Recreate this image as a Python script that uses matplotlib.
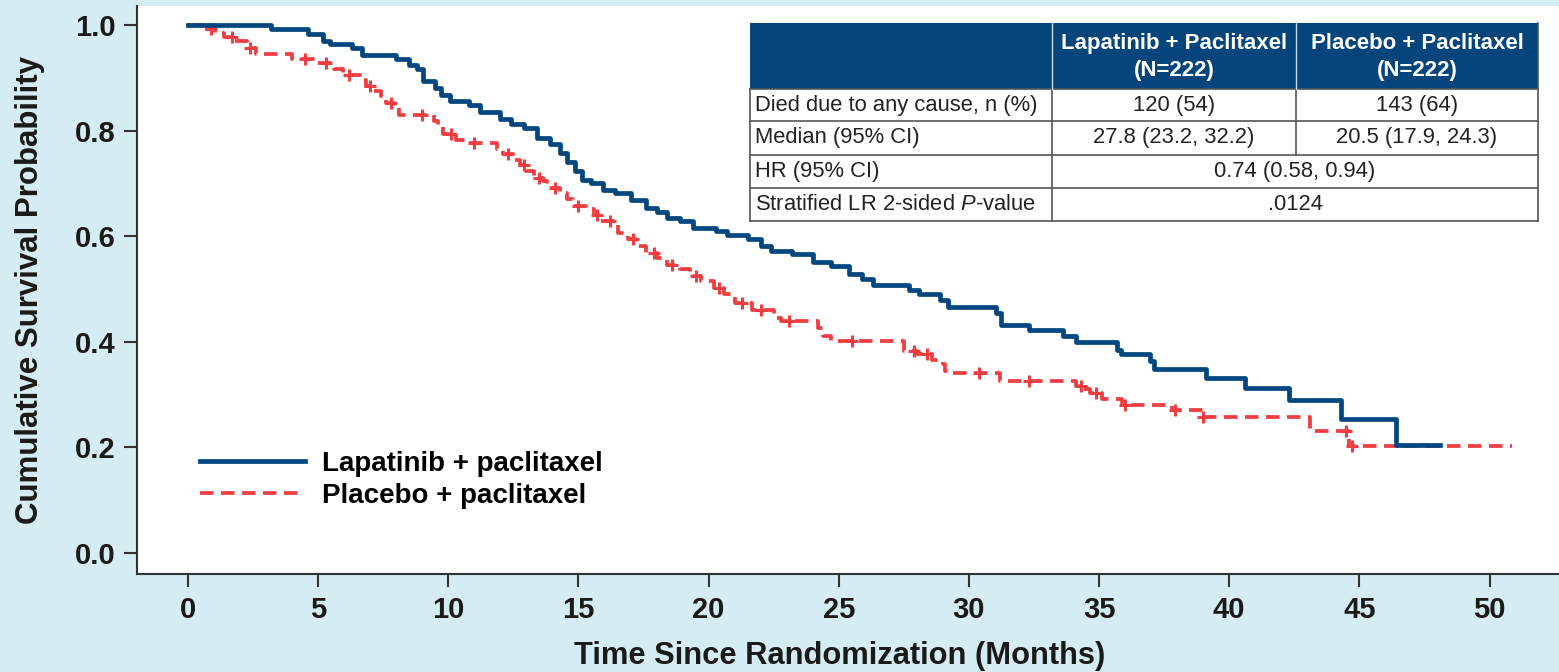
import numpy as np
import matplotlib
matplotlib.use("Agg")
import matplotlib.pyplot as plt
from matplotlib.patches import Rectangle

plt.rcParams['font.family'] = ['Liberation Sans', 'DejaVu Sans']
plt.rcParams['mathtext.fontset'] = 'custom'
plt.rcParams['mathtext.rm'] = 'Liberation Sans'
plt.rcParams['mathtext.it'] = 'Liberation Sans:italic'

# Kaplan-Meier steps (months, survival after the drop)
lap_t = [0, 3.2, 4.6, 5.2, 5.45, 6.3, 6.7, 8.0, 8.5, 8.8, 9.03, 9.5, 9.7, 10.07,
         10.8, 11.2, 12.0, 12.4, 12.9, 13.4, 13.9, 14.3, 14.55, 14.85, 15.15,
         15.5, 15.95, 16.4, 17.0, 17.6, 18.0, 18.4, 18.9, 19.4, 20.3, 20.7,
         21.5, 22.0, 22.4, 23.2, 24.0, 24.7, 25.4, 25.9, 26.3, 27.7, 28.1, 28.9,
         29.2, 31.05, 31.25, 32.3, 33.6, 34.1, 35.7, 35.85, 36.95, 37.1, 39.1,
         40.6, 42.3, 44.3, 46.4, 48.1]
lap_s = [1.0, 0.993, 0.983, 0.969, 0.964, 0.957, 0.944, 0.935, 0.925, 0.916,
         0.894, 0.881, 0.868, 0.856, 0.849, 0.836, 0.822, 0.813, 0.804, 0.786,
         0.775, 0.758, 0.741, 0.723, 0.707, 0.701, 0.688, 0.682, 0.668, 0.654,
         0.645, 0.635, 0.628, 0.616, 0.609, 0.603, 0.594, 0.581, 0.572, 0.566,
         0.551, 0.543, 0.528, 0.518, 0.507, 0.499, 0.491, 0.480, 0.466, 0.455,
         0.431, 0.422, 0.411, 0.399, 0.385, 0.376, 0.363, 0.349, 0.332, 0.312,
         0.289, 0.253, 0.204, 0.204]

pla_t = [0, 0.5, 1.05, 1.4, 1.8, 2.25, 2.6, 4.0, 4.9, 5.6, 5.95, 6.6, 6.85, 7.1,
         7.4, 7.6, 7.9, 8.1, 9.45, 9.6, 9.8, 10.3, 10.7, 11.86, 12.1, 12.5,
         12.75, 13.0, 13.3, 13.65, 13.8, 14.3, 14.55, 14.8, 15.3, 15.6, 15.8,
         16.5, 16.9, 17.2, 17.6, 18.0, 18.4, 18.9, 19.3, 19.7, 20.2, 20.6, 21.0,
         21.65, 22.5, 22.8, 24.2, 24.4, 24.7, 27.5, 28.0, 28.6, 29.0, 29.1, 29.4,
         31.2, 34.1, 34.4, 34.65, 35.1, 35.9, 37.8, 39.0, 43.1, 44.6, 50.85]
pla_s = [1.0, 0.993, 0.985, 0.978, 0.969, 0.957, 0.946, 0.935, 0.928, 0.916,
         0.906, 0.895, 0.884, 0.875, 0.865, 0.853, 0.843, 0.830, 0.818, 0.806,
         0.793, 0.783, 0.777, 0.766, 0.755, 0.745, 0.735, 0.723, 0.711, 0.704,
         0.692, 0.682, 0.670, 0.657, 0.651, 0.641, 0.628, 0.606, 0.594, 0.581,
         0.569, 0.559, 0.546, 0.537, 0.524, 0.515, 0.502, 0.490, 0.474, 0.461,
         0.445, 0.439, 0.426, 0.411, 0.401, 0.382, 0.376, 0.366, 0.357, 0.344,
         0.340, 0.325, 0.316, 0.310, 0.303, 0.292, 0.281, 0.270, 0.258, 0.231,
         0.202, 0.202]
pla_cens = [0.9, 1.7, 2.4, 4.5, 5.3, 6.2, 7.0, 7.8, 9.0, 10.1, 11.0, 12.3, 12.9,
            13.5, 14.1, 15.0, 15.7, 16.2, 17.1, 17.9, 18.6, 19.5, 20.4, 21.3,
            22.0, 23.1, 25.5, 27.9, 28.4, 30.4, 32.3, 34.3, 34.9, 36.0, 37.9,
            39.0, 44.5, 44.7]

labels = ['Lapatinib + paclitaxel', 'Placebo + paclitaxel']
xticks = [0, 5, 10, 15, 20, 25, 30, 35, 40, 45, 50]
yticks = [0.0, 0.2, 0.4, 0.6, 0.8, 1.0]

tbl_head = ['Lapatinib + Paclitaxel\n(N=222)', 'Placebo + Paclitaxel\n(N=222)']
row_names = ['Died due to any cause, n (%)', 'Median (95% CI)', 'HR (95% CI)',
             'Stratified LR 2-sided $\\mathit{P}$-value']
lap_vals = ['120 (54)', '27.8 (23.2, 32.2)']
pla_vals = ['143 (64)', '20.5 (17.9, 24.3)']
both_vals = ['0.74 (0.58, 0.94)', '.0124']

BG = '#d5ecf2'
BLUE = '#00467f'
RED = '#ef3e42'
HEAD = '#05457c'
W, H = 1559, 672

fig = plt.figure(figsize=(W / 100, H / 100), dpi=100, facecolor=BG)
ax = fig.add_axes([137 / W, 1 - 574 / H, 1 - 137 / W, (574 - 6) / H])
ax.set_facecolor('white')

l1, = ax.step(lap_t, lap_s, where='post', color=BLUE, lw=3.4, zorder=3)
l2, = ax.step(pla_t, pla_s, where='post', color=RED, lw=2.7,
              dashes=(3.6, 2.0), zorder=2)
idx = np.searchsorted(pla_t, pla_cens, side='right') - 1
ax.plot(pla_cens, np.array(pla_s)[idx], ls='none', marker='+', ms=8, mew=2.2,
        color=RED, zorder=2)

ax.set_xlim(-1.96, 52.67)
ax.set_ylim(-0.0398, 1.036)
ax.set_xticks(xticks)
ax.set_yticks(yticks)
ax.set_yticklabels([f'{v:.1f}' for v in yticks])
for s in ['top', 'right']:
    ax.spines[s].set_visible(False)
for s in ['left', 'bottom']:
    ax.spines[s].set_color('#333333')
    ax.spines[s].set_linewidth(1.5)
ax.tick_params(axis='both', length=9.5, width=1.5, color='#333333',
               labelsize=21, labelcolor='#1a1a1a')
ax.tick_params(axis='x', pad=6)
ax.tick_params(axis='y', pad=6)
for t in ax.get_xticklabels() + ax.get_yticklabels():
    t.set_fontweight('bold')

fig.text(30 / W, 1 - 290 / H, 'Cumulative Survival Probability', rotation=90,
         ha='center', va='center', fontsize=22.5, fontweight='bold', color='#1a1a1a')
fig.text(840 / W, 1 - 656 / H, 'Time Since Randomization (Months)',
         ha='center', va='center', fontsize=22.2, fontweight='bold', color='#1a1a1a')

ax.legend([l1, l2], labels, loc='upper left',
          bbox_to_anchor=(200 / W, 1 - 451 / H), bbox_transform=fig.transFigure,
          frameon=False, prop={'weight': 'bold', 'size': 20},
          handlelength=3.78, handletextpad=0.6, labelspacing=0.22,
          borderpad=0, borderaxespad=0)

# table drawn in its own pixel-unit axes
col_edges = [750, 1052, 1296, 1538]
row_edges = [23, 89, 121, 155, 188, 221]
tab = fig.add_axes([col_edges[0] / W, 1 - row_edges[-1] / H,
                    (col_edges[-1] - col_edges[0]) / W,
                    (row_edges[-1] - row_edges[0]) / H])
tab.set_xlim(col_edges[0], col_edges[-1])
tab.set_ylim(row_edges[-1], row_edges[0])
tab.axis('off')
tab.add_patch(Rectangle((col_edges[0], row_edges[1]), col_edges[-1] - col_edges[0],
                        row_edges[-1] - row_edges[1], facecolor='white',
                        edgecolor='none', clip_on=False))
tab.add_patch(Rectangle((col_edges[0], row_edges[0]), col_edges[-1] - col_edges[0],
                        row_edges[1] - row_edges[0], facecolor=HEAD,
                        edgecolor='none', clip_on=False))
lc = '#555555'
for y in row_edges[1:]:
    tab.plot([col_edges[0], col_edges[-1]], [y, y], color=lc, lw=1.2, clip_on=False)
tab.plot([col_edges[0], col_edges[0]], [row_edges[1], row_edges[-1]], color=lc, lw=1.2, clip_on=False)
tab.plot([col_edges[-1], col_edges[-1]], [row_edges[0], row_edges[-1]], color=lc, lw=1.2, clip_on=False)
tab.plot([col_edges[1], col_edges[1]], [row_edges[1], row_edges[-1]], color=lc, lw=1.2, clip_on=False)
tab.plot([col_edges[2], col_edges[2]], [row_edges[1], row_edges[3]], color=lc, lw=1.2, clip_on=False)
for x in col_edges[1:3]:
    tab.plot([x, x], [row_edges[0], row_edges[1]], color='#c8d8e8', lw=1.0, clip_on=False)

hy = (row_edges[0] + row_edges[1]) / 2
for i, txt in enumerate(tbl_head):
    tab.text((col_edges[i + 1] + col_edges[i + 2]) / 2, hy + 1, txt, ha='center',
             va='center', color='white', fontsize=16, fontweight='bold',
             linespacing=1.4)
for i, name in enumerate(row_names):
    cy = (row_edges[i + 1] + row_edges[i + 2]) / 2
    tab.text(col_edges[0] + 5, cy, name, ha='left', va='center', fontsize=15.8,
             color='#222222')
for i in range(len(lap_vals)):
    cy = (row_edges[i + 1] + row_edges[i + 2]) / 2
    tab.text((col_edges[1] + col_edges[2]) / 2, cy, lap_vals[i], ha='center',
             va='center', fontsize=15.8, color='#222222')
    tab.text((col_edges[2] + col_edges[3]) / 2, cy, pla_vals[i], ha='center',
             va='center', fontsize=15.8, color='#222222')
for i, v in enumerate(both_vals):
    cy = (row_edges[i + 3] + row_edges[i + 4]) / 2
    tab.text((col_edges[1] + col_edges[3]) / 2, cy, v, ha='center', va='center',
             fontsize=15.8, color='#222222')

fig.savefig('out.png', dpi=100, facecolor=BG)
